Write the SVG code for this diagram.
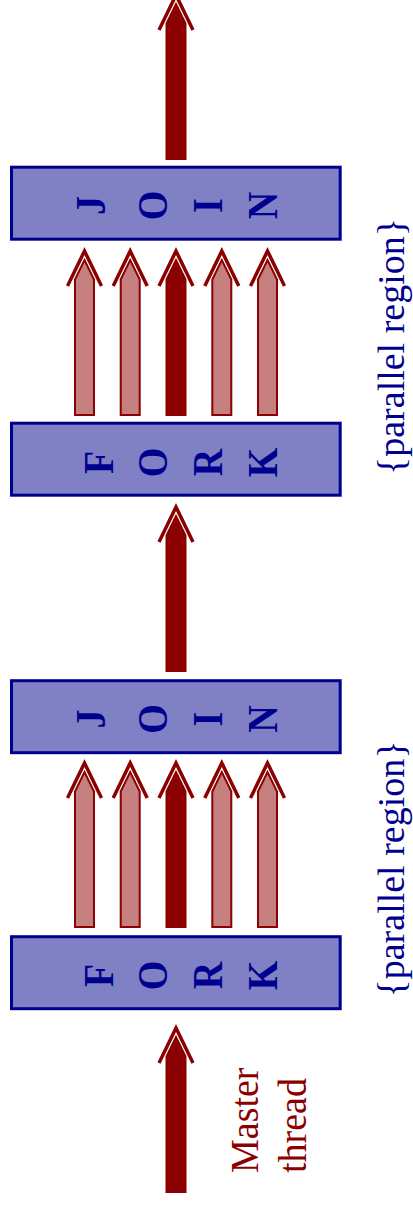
<svg xmlns="http://www.w3.org/2000/svg" xmlns:xlink="http://www.w3.org/1999/xlink" width="413" height="1207" viewBox="0 0 413 1207">
<style>
.box{fill:#8080c4;stroke:#000090;stroke-width:3}
.let{font-family:"Liberation Serif","Times New Roman",serif;font-weight:bold;font-size:38px;fill:#000090;text-anchor:middle}
.lbl{font-family:"Liberation Serif","Times New Roman",serif;font-size:38px}
.blue{fill:#000090}
.red{fill:#8b0000}
.chev{fill:none;stroke:#8b0000;stroke-width:3.5;stroke-miterlimit:10}
.pink{fill:#c57f7f;stroke:#8b0000;stroke-width:2}
.dark{fill:#8b0000;stroke:#8b0000;stroke-width:2}
</style>
<defs>
<g id="arrowPink">
<path class="chev" d="M-17,35 L0,0 L17,35"/>
<path class="pink" d="M-9.5,164 L-9.5,28.6 L0,9 L9.5,28.6 L9.5,164 Z"/>
</g>
<g id="arrowDark">
<path class="chev" d="M-17,35 L0,0 L17,35"/>
<path class="dark" d="M-9.5,164 L-9.5,28.6 L0,9 L9.5,28.6 L9.5,164 Z"/>
</g>
</defs>

<g id="connectors">
<use xlink:href="#arrowDark" transform="translate(176,-5)"/>
<use xlink:href="#arrowPink" transform="translate(84.5,251)"/>
<use xlink:href="#arrowPink" transform="translate(130.2,251)"/>
<use xlink:href="#arrowDark" transform="translate(176,251)"/>
<use xlink:href="#arrowPink" transform="translate(221.8,251)"/>
<use xlink:href="#arrowPink" transform="translate(267.5,251)"/>
<use xlink:href="#arrowDark" transform="translate(176,507)"/>
<use xlink:href="#arrowPink" transform="translate(84.5,763)"/>
<use xlink:href="#arrowPink" transform="translate(130.2,763)"/>
<use xlink:href="#arrowDark" transform="translate(176,763)"/>
<use xlink:href="#arrowPink" transform="translate(221.8,763)"/>
<use xlink:href="#arrowPink" transform="translate(267.5,763)"/>
<use xlink:href="#arrowDark" transform="translate(176,1028)"/>
</g>

<g id="join-top">
<rect class="box" x="11.5" y="167.2" width="328.7" height="72"/>
<text class="let" transform="translate(105,205.5) rotate(-90) scale(1,1.12)">J</text>
<text class="let" transform="translate(167,205.5) rotate(-90) scale(1,1.12)">O</text>
<text class="let" transform="translate(221.7,205.5) rotate(-90) scale(1,1.12)">I</text>
<text class="let" transform="translate(276.7,205.5) rotate(-90) scale(1,1.12)">N</text>
</g>

<g id="fork-top">
<rect class="box" x="11.5" y="423.2" width="328.7" height="72"/>
<text class="let" transform="translate(113,462.5) rotate(-90) scale(1,1.12)">F</text>
<text class="let" transform="translate(167,462.5) rotate(-90) scale(1,1.12)">O</text>
<text class="let" transform="translate(221.7,462.5) rotate(-90) scale(1,1.12)">R</text>
<text class="let" transform="translate(276.7,462.5) rotate(-90) scale(1,1.12)">K</text>
</g>

<g id="join-bottom">
<rect class="box" x="11.5" y="680.7" width="328.7" height="72"/>
<text class="let" transform="translate(105,719) rotate(-90) scale(1,1.12)">J</text>
<text class="let" transform="translate(167,719) rotate(-90) scale(1,1.12)">O</text>
<text class="let" transform="translate(221.7,719) rotate(-90) scale(1,1.12)">I</text>
<text class="let" transform="translate(276.7,719) rotate(-90) scale(1,1.12)">N</text>
</g>

<g id="fork-bottom">
<rect class="box" x="11.5" y="936.7" width="328.7" height="72"/>
<text class="let" transform="translate(113,975.5) rotate(-90) scale(1,1.12)">F</text>
<text class="let" transform="translate(167,975.5) rotate(-90) scale(1,1.12)">O</text>
<text class="let" transform="translate(221.7,975.5) rotate(-90) scale(1,1.12)">R</text>
<text class="let" transform="translate(276.7,975.5) rotate(-90) scale(1,1.12)">K</text>
</g>

<g id="region-top">
<text class="lbl blue" text-anchor="middle" transform="translate(404,346.5) rotate(-90)">{parallel region}</text>
</g>
<g id="region-bottom">
<text class="lbl blue" text-anchor="middle" transform="translate(404,869) rotate(-90)">{parallel region}</text>
</g>

<g id="master-label">
<text class="lbl red" transform="translate(258,1173) rotate(-90) scale(1,1.04)">Master</text>
<text class="lbl red" transform="translate(305.5,1173) rotate(-90) scale(1,1.04)">thread</text>
</g>
</svg>
